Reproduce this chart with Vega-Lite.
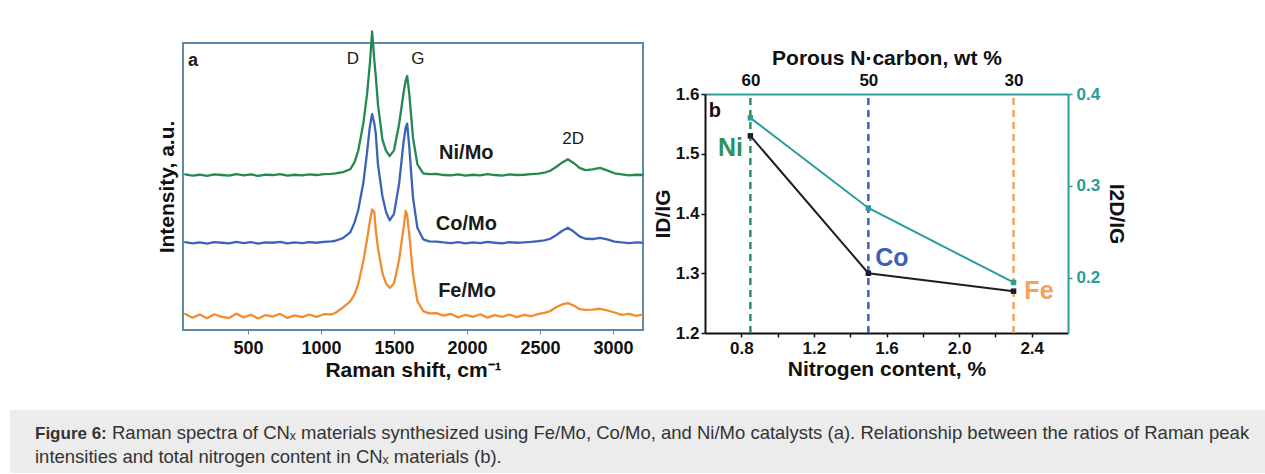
{
  "$schema": "https://vega.github.io/schema/vega-lite/v6.json",
  "padding": {"left": 10, "top": 29, "right": 0, "bottom": 0},
  "background": "white",
  "config": {"font": "Liberation Sans"},
  "spacing": 29,
  "datasets": {
    "spec": [
      {"s":"Ni/Mo","x":70,"y":54.2},{"s":"Ni/Mo","x":120,"y":53.8},{"s":"Ni/Mo","x":170,"y":54.1},{"s":"Ni/Mo","x":220,"y":53.7},{"s":"Ni/Mo","x":270,"y":54.2},{"s":"Ni/Mo","x":320,"y":54.0},{"s":"Ni/Mo","x":370,"y":53.8},{"s":"Ni/Mo","x":420,"y":54.3},{"s":"Ni/Mo","x":470,"y":53.9},{"s":"Ni/Mo","x":520,"y":54.2},{"s":"Ni/Mo","x":570,"y":53.7},{"s":"Ni/Mo","x":620,"y":54.1},{"s":"Ni/Mo","x":670,"y":54.0},{"s":"Ni/Mo","x":720,"y":54.3},{"s":"Ni/Mo","x":770,"y":53.8},{"s":"Ni/Mo","x":820,"y":54.1},{"s":"Ni/Mo","x":870,"y":53.9},{"s":"Ni/Mo","x":920,"y":54.2},{"s":"Ni/Mo","x":970,"y":54.0},{"s":"Ni/Mo","x":1020,"y":54.3},{"s":"Ni/Mo","x":1070,"y":54.4},{"s":"Ni/Mo","x":1100,"y":54.6},
      {"s":"Ni/Mo","x":1150,"y":55.0},{"s":"Ni/Mo","x":1200,"y":56.0},{"s":"Ni/Mo","x":1230,"y":58.5},{"s":"Ni/Mo","x":1255,"y":62.5},{"s":"Ni/Mo","x":1290,"y":72.0},{"s":"Ni/Mo","x":1315,"y":82.0},{"s":"Ni/Mo","x":1335,"y":93.0},{"s":"Ni/Mo","x":1350,"y":104.0},{"s":"Ni/Mo","x":1365,"y":94.0},{"s":"Ni/Mo","x":1375,"y":88.5},{"s":"Ni/Mo","x":1390,"y":78.6},{"s":"Ni/Mo","x":1420,"y":66.5},{"s":"Ni/Mo","x":1445,"y":62.5},{"s":"Ni/Mo","x":1470,"y":60.6},{"s":"Ni/Mo","x":1500,"y":62.6},{"s":"Ni/Mo","x":1535,"y":71.8},{"s":"Ni/Mo","x":1565,"y":82.5},{"s":"Ni/Mo","x":1580,"y":87.0},{"s":"Ni/Mo","x":1590,"y":88.5},{"s":"Ni/Mo","x":1605,"y":82.0},{"s":"Ni/Mo","x":1630,"y":67.0},{"s":"Ni/Mo","x":1660,"y":57.7},{"s":"Ni/Mo","x":1700,"y":54.6},{"s":"Ni/Mo","x":1740,"y":54.3},
      {"s":"Ni/Mo","x":1790,"y":54.4},{"s":"Ni/Mo","x":1840,"y":54.0},{"s":"Ni/Mo","x":1890,"y":53.9},{"s":"Ni/Mo","x":1940,"y":54.2},{"s":"Ni/Mo","x":1990,"y":53.8},{"s":"Ni/Mo","x":2040,"y":54.1},{"s":"Ni/Mo","x":2090,"y":53.9},{"s":"Ni/Mo","x":2140,"y":54.3},{"s":"Ni/Mo","x":2190,"y":54.0},{"s":"Ni/Mo","x":2240,"y":53.8},{"s":"Ni/Mo","x":2290,"y":54.2},{"s":"Ni/Mo","x":2340,"y":54.0},{"s":"Ni/Mo","x":2390,"y":54.1},{"s":"Ni/Mo","x":2440,"y":54.3},{"s":"Ni/Mo","x":2490,"y":54.5},
      {"s":"Ni/Mo","x":2530,"y":54.8},{"s":"Ni/Mo","x":2570,"y":55.5},{"s":"Ni/Mo","x":2610,"y":56.8},{"s":"Ni/Mo","x":2650,"y":58.3},{"s":"Ni/Mo","x":2690,"y":59.5},{"s":"Ni/Mo","x":2730,"y":58.2},{"s":"Ni/Mo","x":2770,"y":56.5},{"s":"Ni/Mo","x":2810,"y":55.7},{"s":"Ni/Mo","x":2860,"y":56.0},{"s":"Ni/Mo","x":2910,"y":56.5},{"s":"Ni/Mo","x":2960,"y":55.6},{"s":"Ni/Mo","x":3010,"y":54.6},{"s":"Ni/Mo","x":3060,"y":54.2},{"s":"Ni/Mo","x":3110,"y":53.9},{"s":"Ni/Mo","x":3160,"y":54.1},{"s":"Ni/Mo","x":3200,"y":54.0},

      {"s":"Co/Mo","x":70,"y":30.6},{"s":"Co/Mo","x":120,"y":30.2},{"s":"Co/Mo","x":170,"y":30.5},{"s":"Co/Mo","x":220,"y":30.1},{"s":"Co/Mo","x":270,"y":30.6},{"s":"Co/Mo","x":320,"y":30.4},{"s":"Co/Mo","x":370,"y":30.2},{"s":"Co/Mo","x":420,"y":30.7},{"s":"Co/Mo","x":470,"y":30.3},{"s":"Co/Mo","x":520,"y":30.6},{"s":"Co/Mo","x":570,"y":30.1},{"s":"Co/Mo","x":620,"y":30.5},{"s":"Co/Mo","x":670,"y":30.4},{"s":"Co/Mo","x":720,"y":30.7},{"s":"Co/Mo","x":770,"y":30.2},{"s":"Co/Mo","x":820,"y":30.5},{"s":"Co/Mo","x":870,"y":30.3},{"s":"Co/Mo","x":920,"y":30.6},{"s":"Co/Mo","x":970,"y":30.4},{"s":"Co/Mo","x":1020,"y":30.7},{"s":"Co/Mo","x":1070,"y":30.9},{"s":"Co/Mo","x":1100,"y":31.1},
      {"s":"Co/Mo","x":1150,"y":32.0},{"s":"Co/Mo","x":1200,"y":34.0},{"s":"Co/Mo","x":1230,"y":37.5},{"s":"Co/Mo","x":1255,"y":41.8},{"s":"Co/Mo","x":1290,"y":51.3},{"s":"Co/Mo","x":1315,"y":61.7},{"s":"Co/Mo","x":1335,"y":71.0},{"s":"Co/Mo","x":1350,"y":75.2},{"s":"Co/Mo","x":1365,"y":72.0},{"s":"Co/Mo","x":1375,"y":68.5},{"s":"Co/Mo","x":1390,"y":57.7},{"s":"Co/Mo","x":1420,"y":46.8},{"s":"Co/Mo","x":1445,"y":41.2},{"s":"Co/Mo","x":1470,"y":38.2},{"s":"Co/Mo","x":1500,"y":40.5},{"s":"Co/Mo","x":1535,"y":51.0},{"s":"Co/Mo","x":1565,"y":65.5},{"s":"Co/Mo","x":1580,"y":70.5},{"s":"Co/Mo","x":1590,"y":71.9},{"s":"Co/Mo","x":1605,"y":63.5},{"s":"Co/Mo","x":1630,"y":46.1},{"s":"Co/Mo","x":1660,"y":35.6},{"s":"Co/Mo","x":1700,"y":31.6},{"s":"Co/Mo","x":1740,"y":30.9},
      {"s":"Co/Mo","x":1790,"y":30.8},{"s":"Co/Mo","x":1840,"y":30.5},{"s":"Co/Mo","x":1890,"y":30.3},{"s":"Co/Mo","x":1940,"y":30.6},{"s":"Co/Mo","x":1990,"y":30.2},{"s":"Co/Mo","x":2040,"y":30.5},{"s":"Co/Mo","x":2090,"y":30.3},{"s":"Co/Mo","x":2140,"y":30.7},{"s":"Co/Mo","x":2190,"y":30.4},{"s":"Co/Mo","x":2240,"y":30.2},{"s":"Co/Mo","x":2290,"y":30.6},{"s":"Co/Mo","x":2340,"y":30.4},{"s":"Co/Mo","x":2390,"y":30.5},{"s":"Co/Mo","x":2440,"y":30.7},{"s":"Co/Mo","x":2490,"y":31.0},
      {"s":"Co/Mo","x":2530,"y":31.2},{"s":"Co/Mo","x":2570,"y":31.8},{"s":"Co/Mo","x":2610,"y":33.0},{"s":"Co/Mo","x":2650,"y":34.5},{"s":"Co/Mo","x":2690,"y":35.6},{"s":"Co/Mo","x":2730,"y":34.3},{"s":"Co/Mo","x":2770,"y":32.6},{"s":"Co/Mo","x":2810,"y":31.8},{"s":"Co/Mo","x":2860,"y":31.7},{"s":"Co/Mo","x":2910,"y":32.1},{"s":"Co/Mo","x":2960,"y":31.6},{"s":"Co/Mo","x":3010,"y":30.8},{"s":"Co/Mo","x":3060,"y":30.5},{"s":"Co/Mo","x":3110,"y":30.3},{"s":"Co/Mo","x":3160,"y":30.5},{"s":"Co/Mo","x":3200,"y":30.4},

      {"s":"Fe/Mo","x":70,"y":5.6},{"s":"Fe/Mo","x":120,"y":4.3},{"s":"Fe/Mo","x":170,"y":5.4},{"s":"Fe/Mo","x":220,"y":4.1},{"s":"Fe/Mo","x":270,"y":5.5},{"s":"Fe/Mo","x":320,"y":4.6},{"s":"Fe/Mo","x":370,"y":4.2},{"s":"Fe/Mo","x":420,"y":5.7},{"s":"Fe/Mo","x":470,"y":4.4},{"s":"Fe/Mo","x":520,"y":5.3},{"s":"Fe/Mo","x":570,"y":4.0},{"s":"Fe/Mo","x":620,"y":5.2},{"s":"Fe/Mo","x":670,"y":4.7},{"s":"Fe/Mo","x":720,"y":5.6},{"s":"Fe/Mo","x":770,"y":4.2},{"s":"Fe/Mo","x":820,"y":5.1},{"s":"Fe/Mo","x":870,"y":4.5},{"s":"Fe/Mo","x":920,"y":5.4},{"s":"Fe/Mo","x":970,"y":4.6},{"s":"Fe/Mo","x":1020,"y":5.5},{"s":"Fe/Mo","x":1070,"y":5.4},{"s":"Fe/Mo","x":1100,"y":6.0},
      {"s":"Fe/Mo","x":1150,"y":7.8},{"s":"Fe/Mo","x":1200,"y":10.0},{"s":"Fe/Mo","x":1230,"y":12.4},{"s":"Fe/Mo","x":1255,"y":16.0},{"s":"Fe/Mo","x":1290,"y":24.0},{"s":"Fe/Mo","x":1315,"y":31.5},{"s":"Fe/Mo","x":1335,"y":38.0},{"s":"Fe/Mo","x":1350,"y":42.0},{"s":"Fe/Mo","x":1365,"y":41.0},{"s":"Fe/Mo","x":1375,"y":35.0},{"s":"Fe/Mo","x":1390,"y":28.5},{"s":"Fe/Mo","x":1420,"y":20.0},{"s":"Fe/Mo","x":1445,"y":16.2},{"s":"Fe/Mo","x":1470,"y":14.7},{"s":"Fe/Mo","x":1500,"y":16.2},{"s":"Fe/Mo","x":1535,"y":24.5},{"s":"Fe/Mo","x":1565,"y":35.5},{"s":"Fe/Mo","x":1580,"y":41.5},{"s":"Fe/Mo","x":1590,"y":40.0},{"s":"Fe/Mo","x":1605,"y":33.0},{"s":"Fe/Mo","x":1630,"y":19.4},{"s":"Fe/Mo","x":1660,"y":10.1},{"s":"Fe/Mo","x":1700,"y":6.6},{"s":"Fe/Mo","x":1740,"y":5.8},
      {"s":"Fe/Mo","x":1790,"y":5.9},{"s":"Fe/Mo","x":1840,"y":5.0},{"s":"Fe/Mo","x":1890,"y":5.6},{"s":"Fe/Mo","x":1940,"y":4.4},{"s":"Fe/Mo","x":1990,"y":5.3},{"s":"Fe/Mo","x":2040,"y":4.6},{"s":"Fe/Mo","x":2090,"y":5.5},{"s":"Fe/Mo","x":2140,"y":4.3},{"s":"Fe/Mo","x":2190,"y":5.2},{"s":"Fe/Mo","x":2240,"y":4.6},{"s":"Fe/Mo","x":2290,"y":5.4},{"s":"Fe/Mo","x":2340,"y":4.5},{"s":"Fe/Mo","x":2390,"y":5.3},{"s":"Fe/Mo","x":2440,"y":4.8},{"s":"Fe/Mo","x":2490,"y":5.6},
      {"s":"Fe/Mo","x":2530,"y":6.0},{"s":"Fe/Mo","x":2570,"y":6.6},{"s":"Fe/Mo","x":2610,"y":7.9},{"s":"Fe/Mo","x":2650,"y":8.9},{"s":"Fe/Mo","x":2690,"y":9.4},{"s":"Fe/Mo","x":2730,"y":8.5},{"s":"Fe/Mo","x":2770,"y":7.3},{"s":"Fe/Mo","x":2810,"y":7.0},{"s":"Fe/Mo","x":2860,"y":7.1},{"s":"Fe/Mo","x":2910,"y":7.4},{"s":"Fe/Mo","x":2960,"y":6.8},{"s":"Fe/Mo","x":3010,"y":6.1},{"s":"Fe/Mo","x":3060,"y":5.3},{"s":"Fe/Mo","x":3110,"y":5.6},{"s":"Fe/Mo","x":3160,"y":4.9},{"s":"Fe/Mo","x":3200,"y":5.4}
    ],
    "ratio": [
      {"cat":"Ni","n":0.85,"id":1.53,"i2d":0.374},
      {"cat":"Co","n":1.5,"id":1.30,"i2d":0.276},
      {"cat":"Fe","n":2.3,"id":1.27,"i2d":0.195}
    ]
  },
  "vconcat": [
    {
      "spacing": 7,
      "resolve": {"scale": {"color": "independent", "size": "independent"}},
      "hconcat": [
        {
          "width": 138,
          "height": 10,
          "view": {"stroke": null},
          "data": {"values": [{}]},
          "mark": {"type": "point", "opacity": 0}
        },
        {
          "width": 460,
          "height": 287,
          "view": {"stroke": "#5f8ba8", "strokeWidth": 2},
          "layer": [
            {
              "data": {"name": "spec"},
              "mark": {"type": "line", "strokeJoin": "round", "strokeCap": "round"},
              "encoding": {
                "x": {"field": "x", "type": "quantitative", "title": "Raman shift, cm⁻¹",
                  "scale": {"domain": [55, 3205], "nice": false, "zero": false},
                  "axis": {"values": [500,1000,1500,2000,2500,3000], "format": "d", "grid": false, "domain": false,
                    "ticks": true, "tickColor": "#5f8ba8", "tickSize": 4,
                    "labelFontSize": 18, "labelFontWeight": "bold", "labelColor": "#111", "labelPadding": 5,
                    "titleFontSize": 21, "titleFontWeight": "bold", "titleColor": "#111", "titlePadding": 2}},
                "y": {"field": "y", "type": "quantitative", "title": "Intensity, a.u.",
                  "scale": {"domain": [0, 100], "nice": false, "zero": false},
                  "axis": {"labels": false, "ticks": false, "domain": false, "grid": false, "minExtent": 0,
                    "titleFontSize": 21, "titleFontWeight": "bold", "titleColor": "#111", "titlePadding": 6}},
                "color": {"field": "s", "type": "nominal", "legend": null,
                  "scale": {"domain": ["Ni/Mo", "Co/Mo", "Fe/Mo"], "range": ["#24894f", "#3d63b8", "#f28d2e"]}},
                "size": {"field": "s", "type": "nominal", "legend": null,
                  "scale": {"domain": ["Ni/Mo", "Co/Mo", "Fe/Mo"], "range": [2.3, 2.3, 4]}}
              }
            },
            {
              "data": {"values": [
                {"x": 1995, "y": 61.8, "t": "Ni/Mo"},
                {"x": 1995, "y": 36.8, "t": "Co/Mo"},
                {"x": 2000, "y": 13.6, "t": "Fe/Mo"}
              ]},
              "mark": {"type": "text", "fontSize": 20, "fontWeight": "bold", "color": "#1a1a1a", "align": "center", "baseline": "middle"},
              "encoding": {
                "x": {"field": "x", "type": "quantitative", "title": "Raman shift, cm⁻¹"},
                "y": {"field": "y", "type": "quantitative", "title": "Intensity, a.u."},
                "text": {"field": "t"}
              }
            },
            {
              "data": {"values": [
                {"x": 123, "y": 93.7, "t": "a"}
              ]},
              "mark": {"type": "text", "fontSize": 18, "fontWeight": "bold", "color": "#1a1a1a", "align": "center", "baseline": "middle"},
              "encoding": {
                "x": {"field": "x", "type": "quantitative", "title": "Raman shift, cm⁻¹"},
                "y": {"field": "y", "type": "quantitative", "title": "Intensity, a.u."},
                "text": {"field": "t"}
              }
            },
            {
              "data": {"values": [
                {"x": 1219, "y": 94.3, "t": "D"},
                {"x": 1664, "y": 94.3, "t": "G"},
                {"x": 2726, "y": 66.4, "t": "2D"}
              ]},
              "mark": {"type": "text", "fontSize": 17, "color": "#1a1a1a", "align": "center", "baseline": "middle"},
              "encoding": {
                "x": {"field": "x", "type": "quantitative", "title": "Raman shift, cm⁻¹"},
                "y": {"field": "y", "type": "quantitative", "title": "Intensity, a.u."},
                "text": {"field": "t"}
              }
            }
          ]
        },
        {
          "width": 363,
          "height": 290,
          "view": {"stroke": null},
          "data": {"name": "ratio"},
          "layer": [
            {
              "layer": [
                {
                  "mark": {"type": "rule", "strokeDash": [7, 5], "strokeWidth": 2.5},
                  "encoding": {
                    "x": {"field": "n", "type": "quantitative", "title": "Nitrogen content, %",
                      "scale": {"domain": [0.6, 2.6], "nice": false, "zero": false},
                      "axis": {"orient": "bottom", "values": [0.8,1.0,1.2,1.4,1.6,1.8,2.0,2.2,2.4],
                        "labelExpr": "round(datum.value*10) % 4 == 0 ? format(datum.value, '.1f') : ''",
                        "grid": false, "domainColor": "#111", "domainWidth": 2, "tickColor": "#111", "tickSize": 4, "tickWidth": 1.5,
                        "labelFontSize": 17, "labelFontWeight": "bold", "labelColor": "#111", "labelPadding": 3,
                        "titleFontSize": 21, "titleFontWeight": "bold", "titleColor": "#111", "titlePadding": 2}},
                    "y": {"datum": 1.2, "type": "quantitative", "title": "ID/IG"},
                    "y2": {"datum": 1.6},
                    "color": {"field": "cat", "type": "nominal", "legend": null,
                      "scale": {"domain": ["Ni", "Co", "Fe"], "range": ["#2a9160", "#3f5fb5", "#f2a35c"]}}
                  }
                },
                {
                  "mark": {"type": "line", "color": "#1d1d2b", "strokeWidth": 2,
                    "point": {"shape": "square", "filled": true, "size": 30, "color": "#1d1d2b"}},
                  "encoding": {
                    "x": {"field": "n", "type": "quantitative", "title": "Nitrogen content, %"},
                    "y": {"field": "id", "type": "quantitative", "title": "ID/IG",
                      "scale": {"domain": [1.2, 1.6], "range": [290, 51], "nice": false, "zero": false},
                      "axis": {"orient": "left", "values": [1.2,1.3,1.4,1.5,1.6], "format": ".1f", "grid": false,
                        "domainColor": "#111", "domainWidth": 2, "tickColor": "#111", "tickSize": 4, "tickWidth": 1.5,
                        "labelFontSize": 17, "labelFontWeight": "bold", "labelColor": "#111", "labelPadding": 2, "minExtent": 0,
                        "titleFontSize": 21, "titleFontWeight": "bold", "titleColor": "#111", "titlePadding": 2}}
                  }
                },
                {
                  "data": {"values": [
                    {"cat": "Ni", "n": 0.74, "id": 1.51},
                    {"cat": "Co", "n": 1.63, "id": 1.326},
                    {"cat": "Fe", "n": 2.44, "id": 1.27}
                  ]},
                  "mark": {"type": "text", "fontSize": 25, "fontWeight": "bold", "align": "center", "baseline": "middle"},
                  "encoding": {
                    "x": {"field": "n", "type": "quantitative", "title": "Nitrogen content, %"},
                    "y": {"field": "id", "type": "quantitative", "title": "ID/IG"},
                    "text": {"field": "cat"},
                    "color": {"field": "cat", "type": "nominal", "legend": null}
                  }
                },
                {
                  "data": {"values": [{"n": 0.655, "id": 1.572, "t": "b"}]},
                  "mark": {"type": "text", "fontSize": 20, "fontWeight": "bold", "color": "#111", "align": "center", "baseline": "middle"},
                  "encoding": {
                    "x": {"field": "n", "type": "quantitative", "title": "Nitrogen content, %"},
                    "y": {"field": "id", "type": "quantitative", "title": "ID/IG"},
                    "text": {"field": "t"}
                  }
                }
              ]
            },
            {
              "mark": {"type": "line", "color": "#2a9d9b", "strokeWidth": 2,
                "point": {"shape": "square", "filled": true, "size": 30, "color": "#2a9d9b"}},
              "encoding": {
                "x": {"field": "n", "type": "quantitative", "title": "Porous N·carbon, wt  %",
                  "axis": {"orient": "top", "offset": -51, "values": [0.85, 1.5, 2.3],
                    "labelExpr": "datum.value < 1 ? '60' : datum.value < 2 ? '50' : '30'",
                    "grid": false, "domainColor": "#2a9d9b", "domainWidth": 2, "ticks": false,
                    "labelFontSize": 17, "labelFontWeight": "bold", "labelColor": "#111", "labelPadding": 5,
                    "titleFontSize": 21, "titleFontWeight": "bold", "titleColor": "#111", "titlePadding": 3}},
                "y": {"field": "i2d", "type": "quantitative", "title": "I2D/IG",
                  "scale": {"domain": [0.14, 0.4], "range": [290, 51], "nice": false, "zero": false},
                  "axis": {"orient": "right", "values": [0.2, 0.3, 0.4], "format": ".1f", "grid": false,
                    "domainColor": "#2a9d9b", "domainWidth": 2, "tickColor": "#2a9d9b", "tickSize": 4, "tickWidth": 1.5,
                    "labelFontSize": 17, "labelFontWeight": "bold", "labelColor": "#2a9d9b", "labelPadding": 4, "minExtent": 0,
                    "titleFontSize": 21, "titleFontWeight": "bold", "titleColor": "#111", "titlePadding": 6}}
              }
            }
          ],
          "resolve": {"scale": {"y": "independent"}, "axis": {"x": "independent", "y": "independent"}}
        }
      ]
    },
    {
      "width": 1255,
      "height": 63,
      "view": {"fill": "#ececec", "stroke": null},
      "layer": [
        {
          "data": {"values": [{"cx": 25, "cy": 34, "t": "Figure 6:"}]},
          "mark": {"type": "text", "align": "left", "baseline": "alphabetic", "fontSize": 17, "fontWeight": "bold", "color": "#333"},
          "encoding": {
            "x": {"field": "cx", "type": "quantitative", "scale": {"domain": [0, 1255], "nice": false}, "axis": null},
            "y": {"field": "cy", "type": "quantitative", "scale": {"domain": [0, 63], "nice": false}, "axis": null},
            "text": {"field": "t"}
          }
        },
        {
          "data": {"values": [
            {"cx": 102, "cy": 34, "t": "Raman spectra of CNₓ materials synthesized using Fe/Mo, Co/Mo, and Ni/Mo catalysts (a). Relationship between the ratios of Raman peak"},
            {"cx": 25, "cy": 10, "t": "intensities and total nitrogen content in CNₓ materials (b)."}
          ]},
          "mark": {"type": "text", "align": "left", "baseline": "alphabetic", "fontSize": 18.5, "color": "#333"},
          "encoding": {
            "x": {"field": "cx", "type": "quantitative", "axis": null},
            "y": {"field": "cy", "type": "quantitative", "axis": null},
            "text": {"field": "t"}
          }
        }
      ]
    }
  ]
}
